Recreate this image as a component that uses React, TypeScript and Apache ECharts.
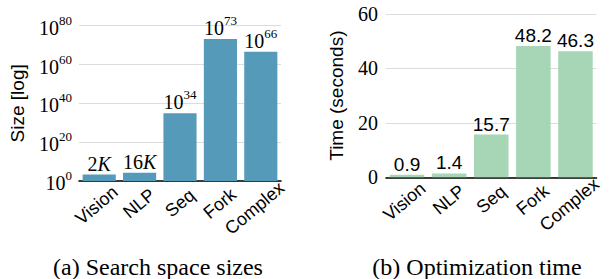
import React, { useEffect, useRef } from "react";
import * as echarts from "echarts";

const categories = ["Vision", "NLP", "Seq", "Fork", "Complex"];
const searchSpaceSizes = [2048, 16384, 8e34, 1.5e73, 4e66];
const optimizationTimes = [0.9, 1.4, 15.7, 48.2, 46.3];
const timeTicks = [0, 20, 40, 60];

const SERIF = "'Liberation Serif', 'Times New Roman', serif";
const SANS = "'Liberation Sans', Arial, sans-serif";
const CAT_FONT = 18;
const ROT = 40;

// Centre each rotated tick label on its tick and push it down so that the
// tops of all rotated labels line up.
function catData(rot: number) {
  const t = (rot * Math.PI) / 180;
  const ctx = document.createElement("canvas").getContext("2d")!;
  ctx.font = CAT_FONT + "px " + SANS;
  const widths = categories.map((c) => ctx.measureText(c).width);
  const minW = Math.min(...widths);
  return categories.map((c, i) => {
    const d = ((widths[i] - minW) / 2) * Math.sin(t);
    const a = d * Math.sin(t);
    const b = d * Math.cos(t);
    return {
      value: c,
      textStyle: {
        align: "center",
        verticalAlign: "middle",
        padding: [2 * b, 2 * a, 0, 0],
      },
    };
  });
}

function supLabel(exp: number) {
  return "{b|10}{s|" + exp + "}";
}

export default function App() {
  const ref = useRef<HTMLDivElement>(null);
  useEffect(() => {
    document.body.style.margin = "0";
    const chart = echarts.init(ref.current!, undefined, { renderer: "svg" });
    const xLabel = {
      rotate: ROT,
      interval: 0,
      margin: 22,
      fontFamily: SANS,
      fontSize: CAT_FONT,
      color: "#000",
    };
    const supRich = {
      b: { fontFamily: SERIF, fontSize: 20, color: "#000", verticalAlign: "bottom", lineHeight: 24 },
      s: { fontFamily: SERIF, fontSize: 13, color: "#000", verticalAlign: "top", lineHeight: 13 },
      i: { fontFamily: SERIF, fontSize: 20, color: "#000", fontStyle: "italic" },
    };
    const titleStyle = { fontFamily: SERIF, fontSize: 24, fontWeight: "normal", color: "#000" };
    chart.setOption({
      animation: false,
      title: [
        { text: "(a) Search space sizes", left: 153, top: 250, textAlign: "center", textStyle: titleStyle },
        { text: "(b) Optimization time", left: 472, top: 250, textAlign: "center", textStyle: titleStyle },
      ],
      grid: [
        { left: 79, top: 25.7, width: 202, height: 155.3, containLabel: false },
        { left: 386, top: 14, width: 210.5, height: 163.3, containLabel: false },
      ],
      xAxis: [
        {
          type: "category",
          gridIndex: 0,
          data: catData(ROT),
          axisLine: { lineStyle: { color: "#000", width: 1.6 } },
          axisTick: { show: false },
          axisLabel: xLabel,
        },
        {
          type: "category",
          gridIndex: 1,
          data: catData(ROT),
          axisLine: { lineStyle: { color: "#000", width: 1.6 } },
          axisTick: { show: false },
          axisLabel: xLabel,
        },
      ],
      yAxis: [
        {
          type: "log",
          logBase: 1e20,
          gridIndex: 0,
          min: 1,
          max: 1e80,
          splitNumber: 4,
          name: "Size [log]",
          nameLocation: "middle",
          nameGap: 52,
          nameTextStyle: { fontFamily: SANS, fontSize: 19, color: "#000" },
          axisLine: { show: false },
          axisTick: { show: false },
          splitLine: { lineStyle: { color: "#dcdcdc", width: 1 } },
          axisLabel: {
            margin: 7,
            formatter: (v: number) => supLabel(Math.round(Math.log10(v))),
            rich: supRich,
          },
        },
        {
          type: "value",
          gridIndex: 1,
          min: timeTicks[0],
          max: timeTicks[timeTicks.length - 1],
          interval: timeTicks[1] - timeTicks[0],
          name: "Time (seconds)",
          nameLocation: "middle",
          nameGap: 40,
          nameTextStyle: { fontFamily: SANS, fontSize: 19, color: "#000" },
          axisLine: { show: false },
          axisTick: { show: false },
          splitLine: { lineStyle: { color: "#dcdcdc", width: 1 } },
          axisLabel: { margin: 8, fontFamily: SERIF, fontSize: 20, color: "#000" },
        },
      ],
      series: [
        {
          type: "bar",
          xAxisIndex: 0,
          yAxisIndex: 0,
          data: searchSpaceSizes,
          barCategoryGap: "18%",
          itemStyle: { color: "#559bb9" },
          label: {
            show: true,
            position: "top",
            distance: 1,
            formatter: (p: any) => {
              const v = p.value as number;
              if (v < 1e6) return Math.round(v / 1024) + "{i|K}";
              return supLabel(Math.floor(Math.log10(v)));
            },
            fontFamily: SERIF,
            fontSize: 20,
            color: "#000",
            rich: supRich,
          },
        },
        {
          type: "bar",
          xAxisIndex: 1,
          yAxisIndex: 1,
          data: optimizationTimes,
          barCategoryGap: "18%",
          itemStyle: { color: "#a7d6b6" },
          label: {
            show: true,
            position: "top",
            distance: 1,
            fontFamily: SANS,
            fontSize: 19,
            color: "#000",
          },
        },
      ],
    });
    return () => chart.dispose();
  }, []);
  return <div ref={ref} style={{ width: 613, height: 279 }} />;
}
